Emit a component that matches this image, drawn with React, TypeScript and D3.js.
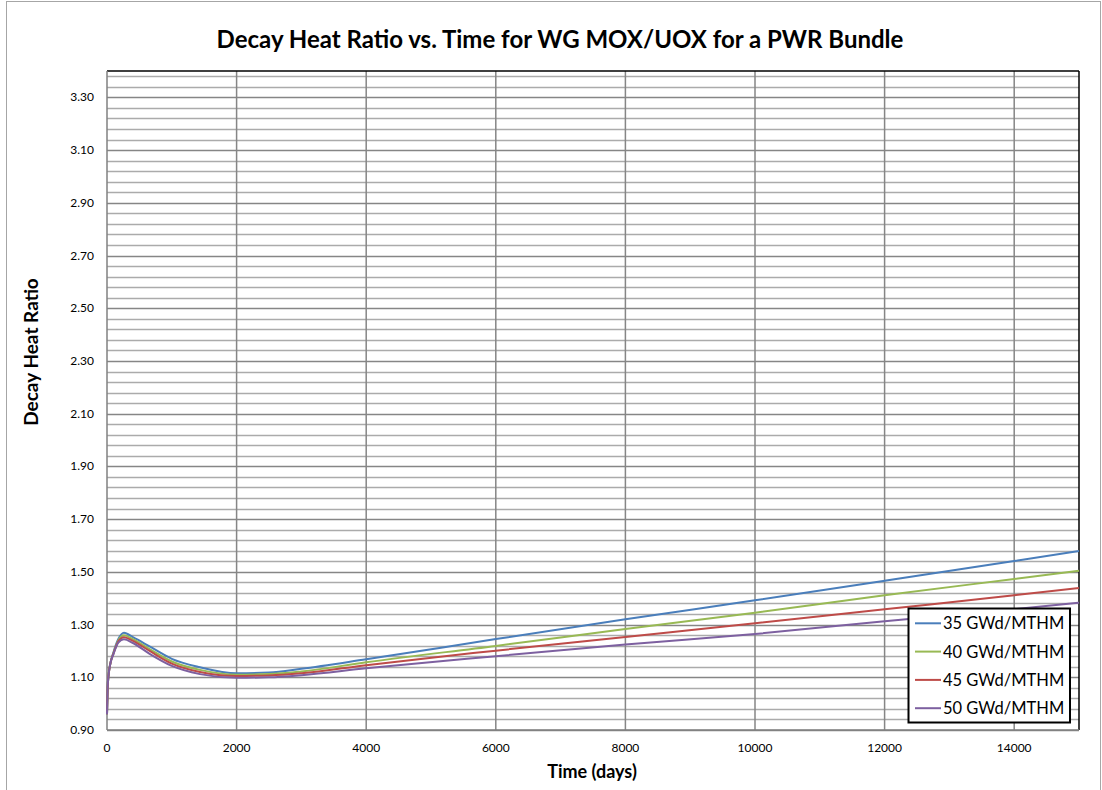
import * as d3 from "d3";

const times = [0, 10, 25, 50, 100, 175, 262, 400, 664, 1000, 1435, 2000, 2500, 3000, 4000, 6000, 8000, 10000, 12000, 14000, 15000];
const gwd35 = [0.96, 1.06, 1.11, 1.15, 1.195, 1.245, 1.269, 1.252, 1.216, 1.17, 1.138, 1.115, 1.118, 1.132, 1.168, 1.245, 1.32, 1.392, 1.466, 1.541, 1.579];
const gwd40 = [0.96, 1.06, 1.11, 1.15, 1.192, 1.24, 1.259, 1.245, 1.206, 1.16, 1.128, 1.11, 1.112, 1.122, 1.157, 1.219, 1.283, 1.345, 1.411, 1.473, 1.504];
const gwd45 = [0.96, 1.06, 1.11, 1.15, 1.19, 1.236, 1.252, 1.238, 1.199, 1.152, 1.12, 1.105, 1.107, 1.115, 1.146, 1.201, 1.253, 1.305, 1.358, 1.411, 1.439];
const gwd50 = [0.96, 1.06, 1.11, 1.15, 1.188, 1.232, 1.244, 1.23, 1.188, 1.143, 1.112, 1.098, 1.1, 1.108, 1.134, 1.18, 1.224, 1.264, 1.313, 1.358, 1.383];

const seriesNames = ["35 GWd/MTHM", "40 GWd/MTHM", "45 GWd/MTHM", "50 GWd/MTHM"];
const seriesColors = ["#4a7ebb", "#98b954", "#be4b48", "#7d60a0"];
const seriesValues = [gwd35, gwd40, gwd45, gwd50];

const xTicks = [0, 2000, 4000, 6000, 8000, 10000, 12000, 14000];
const yTicks = [0.9, 1.1, 1.3, 1.5, 1.7, 1.9, 2.1, 2.3, 2.5, 2.7, 2.9, 3.1, 3.3];

const W = 1102;
const H = 790;
const left = 107, right = 1079, top = 71, bottom = 730;

export default function App() {
  const x = d3.scaleLinear().domain([0, 15000]).range([left, right]);
  const y = d3.scaleLinear().domain([0.9, 3.4]).range([bottom, top]);

  const line = d3
    .line<number>()
    .x((_, i) => x(times[i]))
    .y((d) => y(d))
    .curve(d3.curveMonotoneX);

  // minor grid every 0.04, major every 0.2
  const minor = d3.range(0, 63).map((k) => ({ v: 0.9 + k * 0.04, major: k % 5 === 0 }));

  const font = "Lato, 'Open Sans', sans-serif";

  return (
    <svg width={W} height={H} style={{ position: "absolute", left: 0, top: 0, background: "#fff" }}>
      <style>{`body{margin:0}`}</style>
      <rect x={6.5} y={1.5} width={1094} height={800} fill="#fff" stroke="#a6a6a6" />

      <text x={560} y={48} textAnchor="middle" fontFamily={font} fontWeight="bold" fontSize={24} fill="#000">
        Decay Heat Ratio vs. Time for WG MOX/UOX for a PWR Bundle
      </text>

      {/* horizontal gridlines */}
      {minor.map((m, i) => (
        <line
          key={"h" + i}
          x1={left}
          x2={right}
          y1={Math.round(y(m.v)) + 0.5}
          y2={Math.round(y(m.v)) + 0.5}
          stroke={m.major ? "#868686" : "#ababab"}
          strokeWidth={m.major ? 1.6 : 1.3}
        />
      ))}
      {/* vertical gridlines */}
      {xTicks.slice(1).map((t) => (
        <line key={"v" + t} x1={x(t)} x2={x(t)} y1={top} y2={bottom} stroke="#868686" strokeWidth={1.5} />
      ))}

      {/* plot frame */}
      <line x1={left} x2={right} y1={top} y2={top} stroke="#000" strokeWidth={1.5} />
      <line x1={right} x2={right} y1={top} y2={bottom} stroke="#000" strokeWidth={1.5} />
      <line x1={left} x2={left} y1={top} y2={bottom} stroke="#808080" strokeWidth={1.5} />
      <line x1={left} x2={right} y1={bottom} y2={bottom} stroke="#808080" strokeWidth={1.5} />

      {yTicks.map((t) => (
        <text key={"yt" + t} x={94} y={y(t) + 4} textAnchor="end" fontFamily={font} fontSize={12} fill="#000">
          {t.toFixed(2)}
        </text>
      ))}
      {xTicks.map((t) => (
        <text key={"xt" + t} x={x(t)} y={752} textAnchor="middle" fontFamily={font} fontSize={12} fill="#000">
          {t}
        </text>
      ))}

      <text x={592} y={778} textAnchor="middle" fontFamily={font} fontWeight="bold" fontSize={18} fill="#000">
        Time (days)
      </text>
      <text
        transform="translate(38,352) rotate(-90)"
        textAnchor="middle"
        fontFamily={font}
        fontWeight="bold"
        fontSize={19}
        fill="#000"
      >
        Decay Heat Ratio
      </text>

      {seriesValues.map((vals, i) => (
        <path key={"s" + i} d={line(vals) || ""} fill="none" stroke={seriesColors[i]} strokeWidth={2} />
      ))}

      {/* legend */}
      <rect x={908.5} y={608.5} width={161.5} height={114} fill="#fff" stroke="#000" strokeWidth={2} />
      {seriesNames.map((n, i) => {
        const cy = 623.3 + i * 28.3;
        return (
          <g key={"l" + i}>
            <line x1={915} x2={941} y1={cy} y2={cy} stroke={seriesColors[i]} strokeWidth={2} />
            <text x={943} y={cy + 6} fontFamily={font} fontSize={16.5} fill="#000">
              {n}
            </text>
          </g>
        );
      })}
    </svg>
  );
}
